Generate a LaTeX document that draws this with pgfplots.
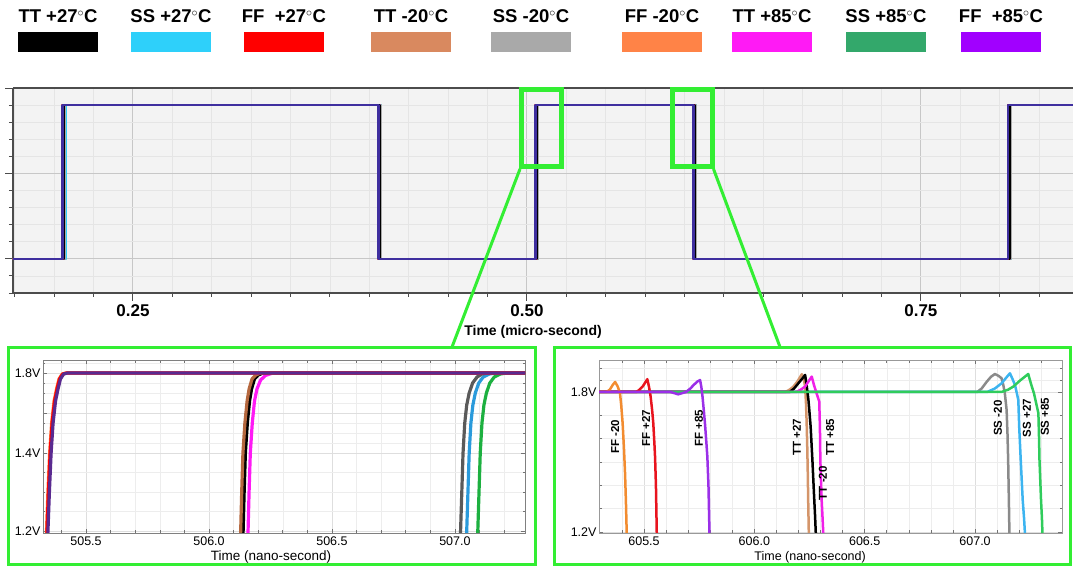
\documentclass[border=0pt]{standalone}
\usepackage{pgfplots}
\pgfplotsset{compat=1.18}
\usepackage{fontspec}
\setmainfont{Liberation Sans}

% legend palette
\definecolor{cTTa}{HTML}{000000}
\definecolor{cSSa}{HTML}{2ED0FA}
\definecolor{cFFa}{HTML}{FF0000}
\definecolor{cTTb}{HTML}{D9895F}
\definecolor{cSSb}{HTML}{A9A9A9}
\definecolor{cFFb}{HTML}{FF8347}
\definecolor{cTTc}{HTML}{FF1AF5}
\definecolor{cSSc}{HTML}{33A86B}
\definecolor{cFFc}{HTML}{A100FF}
% panel shades
\definecolor{topnavy}{HTML}{3F2F9F}
\definecolor{lplat}{HTML}{5A2A90}
\definecolor{lbrown}{HTML}{B5683F}
\definecolor{lgrey}{HTML}{5A5A5A}
\definecolor{lblue}{HTML}{2A9ADB}
\definecolor{lgreen}{HTML}{1DB040}
\definecolor{rorange}{HTML}{F28C30}
\definecolor{rred}{HTML}{E8141E}
\definecolor{rpurple}{HTML}{9B30E8}
\definecolor{rtan}{HTML}{D4956A}
\definecolor{rmag}{HTML}{F020E8}
\definecolor{rgrey}{HTML}{8A8A8A}
\definecolor{rblue}{HTML}{3CB4F0}
\definecolor{rgreen}{HTML}{30CC5C}
\definecolor{zg}{HTML}{33EE33}
\definecolor{bgtop}{HTML}{F3F3F3}

\begin{document}
\begin{tikzpicture}
\useasboundingbox (0pt,0pt) rectangle (1073pt,567pt);

% ---------------- legend ----------------
\begin{scope}[every node/.style={font=\fontsize{18.5}{18.5}\selectfont\bfseries, anchor=center}]
\node at (58pt,551pt)   {TT +27$^\circ$C};
\node at (171pt,551pt)  {SS +27$^\circ$C};
\node at (284pt,551pt)  {FF\ \ +27$^\circ$C};
\node at (411pt,551pt)  {TT -20$^\circ$C};
\node at (531pt,551pt)  {SS -20$^\circ$C};
\node at (662pt,551pt)  {FF -20$^\circ$C};
\node at (772pt,551pt)  {TT +85$^\circ$C};
\node at (886pt,551pt)  {SS +85$^\circ$C};
\node at (1001pt,551pt) {FF\ \ +85$^\circ$C};
\end{scope}
\fill[cTTa] (18pt,515pt) rectangle (98pt,535pt);
\fill[cSSa] (131pt,515pt) rectangle (211pt,535pt);
\fill[cFFa] (244pt,515pt) rectangle (324pt,535pt);
\fill[cTTb] (371pt,515pt) rectangle (451pt,535pt);
\fill[cSSb] (491pt,515pt) rectangle (571pt,535pt);
\fill[cFFb] (622pt,515pt) rectangle (702pt,535pt);
\fill[cTTc] (732pt,515pt) rectangle (812pt,535pt);
\fill[cSSc] (846pt,515pt) rectangle (926pt,535pt);
\fill[cFFc] (961pt,515pt) rectangle (1041pt,535pt);

% ---------------- top axis ----------------
\begin{axis}[at={(13pt,274pt)}, anchor=south west, scale only axis,
  width=1060pt, height=205pt,
  xmin=0.1739, xmax=0.8465, ymin=-0.4, ymax=2,
  axis background/.style={fill=bgtop},
  xtick={0.25,0.5,0.75}, xticklabels={0.25,0.50,0.75},
  minor xtick={0.175,0.2,0.225,0.275,0.3,0.325,0.35,0.375,0.4,0.425,0.45,0.475,0.525,0.55,0.575,0.6,0.625,0.65,0.675,0.7,0.725,0.775,0.8,0.825},
  ytick={0,1,2}, yticklabels={},
  minor ytick={-0.4,-0.2,0.2,0.4,0.6,0.8,1.2,1.4,1.6,1.8},
  grid=both,
  major grid style={color=black!22, line width=0.9pt},
  minor grid style={color=black!10, line width=0.7pt},
  tick align=outside, major tick length=8pt, minor tick length=4pt,
  tick style={color=black!70, line width=0.9pt},
  axis x line*=bottom, axis y line*=left,
  axis line style={color=black!70, line width=1.1pt, -},
  x tick label style={font=\fontsize{17}{17}\selectfont\bfseries},
  xlabel={Time (micro-second)},
  xlabel style={font=\fontsize{14}{14}\selectfont\bfseries, at={(axis description cs:0.4906,0)}, anchor=center, yshift=-39pt},
  every axis plot/.append style={line width=2.6pt, line join=round},
]
\addplot[cSSc] coordinates {(0.17,0)(0.20709,0)(0.20709,1.8)(0.40731,1.8)(0.40731,0)(0.50709,0)(0.50709,1.8)(0.60731,1.8)(0.60731,0)(0.80709,0)(0.80709,1.8)(0.85,1.8)};
\addplot[cSSa] coordinates {(0.17,0)(0.20705,0)(0.20705,1.8)(0.40723,1.8)(0.40723,0)(0.50705,0)(0.50705,1.8)(0.60723,1.8)(0.60723,0)(0.80705,0)(0.80705,1.8)(0.85,1.8)};
\addplot[cSSb] coordinates {(0.17,0)(0.20702,0)(0.20702,1.8)(0.40716,1.8)(0.40716,0)(0.50702,0)(0.50702,1.8)(0.60716,1.8)(0.60716,0)(0.80702,0)(0.80702,1.8)(0.85,1.8)};
\addplot[cTTc] coordinates {(0.17,0)(0.20616,0)(0.20616,1.8)(0.40631,1.8)(0.40631,0)(0.50616,0)(0.50616,1.8)(0.60631,1.8)(0.60631,0)(0.80616,0)(0.80616,1.8)(0.85,1.8)};
\addplot[cTTb] coordinates {(0.17,0)(0.20613,0)(0.20613,1.8)(0.40625,1.8)(0.40625,0)(0.50613,0)(0.50613,1.8)(0.60625,1.8)(0.60625,0)(0.80613,0)(0.80613,1.8)(0.85,1.8)};
\addplot[cTTa] coordinates {(0.17,0)(0.20614,0)(0.20614,1.8)(0.40628,1.8)(0.40628,0)(0.50614,0)(0.50614,1.8)(0.60628,1.8)(0.60628,0)(0.80614,0)(0.80614,1.8)(0.85,1.8)};
\addplot[cFFb] coordinates {(0.17,0)(0.20533,0)(0.20533,1.8)(0.40542,1.8)(0.40542,0)(0.50533,0)(0.50533,1.8)(0.60542,1.8)(0.60542,0)(0.80533,0)(0.80533,1.8)(0.85,1.8)};
\addplot[cFFa] coordinates {(0.17,0)(0.20534,0)(0.20534,1.8)(0.40556,1.8)(0.40556,0)(0.50534,0)(0.50534,1.8)(0.60556,1.8)(0.60556,0)(0.80534,0)(0.80534,1.8)(0.85,1.8)};
\addplot[topnavy] coordinates {(0.17,0)(0.20535,0)(0.20535,1.8)(0.40580,1.8)(0.40580,0)(0.50535,0)(0.50535,1.8)(0.60580,1.8)(0.60580,0)(0.80535,0)(0.80535,1.8)(0.85,1.8)};
\draw[black!70, line width=1.1pt] (rel axis cs:0,1) -- (rel axis cs:1,1);
\end{axis}

% ---------------- bottom left axis (rising edge) ----------------
\begin{axis}[at={(43pt,34pt)}, anchor=south west, scale only axis,
  width=482pt, height=173pt,
  xmin=505.325, xmax=507.285, ymin=1.195, ymax=1.865,
  y coord trafo/.code={\pgfmathparse{#1>=1.4 ? #1 : 1.4+(#1-1.4)*1.95}},
  y coord inv trafo/.code={\pgfmathparse{#1>=1.4 ? #1 : 1.4+(#1-1.4)/1.95}},
  xtick={505.5,506,506.5,507},
  minor xtick={505.4,505.6,505.7,505.8,505.9,506.1,506.2,506.3,506.4,506.6,506.7,506.8,506.9,507.1,507.2},
  ytick={1.2,1.4,1.6,1.8}, yticklabels={1.2V,1.4V,,1.8V},
  minor ytick={1.25,1.3,1.35,1.45,1.5,1.55,1.65,1.7,1.75,1.85},
  grid=both,
  major grid style={color=black!13, line width=0.6pt},
  minor grid style={color=black!7, line width=0.5pt},
  tick align=inside, major tick length=4pt, minor tick length=2.5pt,
  tick style={color=black!55, line width=0.6pt},
  axis line style={color=black!50, line width=0.9pt},
  x tick label style={font=\fontsize{12.5}{12.5}\selectfont, /pgf/number format/.cd, fixed, fixed zerofill, precision=1, assume math mode=true},
  y tick label style={font=\fontsize{12.5}{12.5}\selectfont, xshift=1pt},
  xlabel={Time (nano-second)},
  xlabel style={font=\fontsize{13.5}{13.5}\selectfont, at={(axis description cs:0.473,0)}, anchor=center, yshift=-24pt},
  every axis plot/.append style={line width=3.2pt, line join=round},
]
% SS group
\addplot[lgreen] coordinates {(507.092,1.18)(507.098,1.3)(507.103,1.4)(507.110,1.55)(507.118,1.64)(507.128,1.70)(507.142,1.75)(507.160,1.78)(507.185,1.795)(507.21,1.8)(507.285,1.8)};
\addplot[lblue] coordinates {(507.047,1.18)(507.053,1.3)(507.058,1.4)(507.065,1.55)(507.073,1.64)(507.083,1.70)(507.097,1.75)(507.115,1.78)(507.14,1.795)(507.165,1.8)(507.285,1.8)};
\addplot[lgrey] coordinates {(507.022,1.18)(507.028,1.3)(507.033,1.4)(507.040,1.55)(507.048,1.64)(507.058,1.70)(507.072,1.75)(507.09,1.78)(507.11,1.795)(507.13,1.8)(507.285,1.8)};
% TT group
\addplot[cTTc] coordinates {(506.158,1.18)(506.163,1.3)(506.168,1.4)(506.176,1.55)(506.185,1.66)(506.195,1.72)(506.21,1.765)(506.23,1.788)(506.26,1.8)(507.285,1.8)};
\addplot[cTTa] coordinates {(506.138,1.18)(506.143,1.3)(506.148,1.4)(506.156,1.55)(506.165,1.66)(506.173,1.72)(506.185,1.77)(506.20,1.79)(506.22,1.8)(507.285,1.8)};
\addplot[lbrown] coordinates {(506.128,1.18)(506.133,1.3)(506.138,1.4)(506.146,1.55)(506.155,1.66)(506.163,1.72)(506.175,1.77)(506.19,1.79)(506.21,1.8)(507.285,1.8)};
% FF group
\addplot[cFFb] coordinates {(505.338,1.18)(505.345,1.3)(505.352,1.4)(505.360,1.55)(505.370,1.66)(505.380,1.72)(505.390,1.77)(505.403,1.795)(505.42,1.8)(507.285,1.8)};
\addplot[cFFa] coordinates {(505.340,1.18)(505.347,1.3)(505.354,1.4)(505.362,1.55)(505.372,1.66)(505.382,1.72)(505.392,1.77)(505.405,1.795)(505.42,1.8)(507.285,1.8)};
\addplot[lplat] coordinates {(505.344,1.18)(505.351,1.3)(505.358,1.4)(505.366,1.55)(505.376,1.66)(505.386,1.72)(505.396,1.77)(505.409,1.795)(505.425,1.8)(507.285,1.8)};
\end{axis}

% ---------------- bottom right axis (falling edge) ----------------
\begin{axis}[at={(599pt,34pt)}, anchor=south west, scale only axis,
  width=463pt, height=173pt,
  xmin=605.296, xmax=607.394, ymin=1.196, ymax=1.937,
  xtick={605.5,606,606.5,607},
  minor xtick={605.4,605.6,605.7,605.8,605.9,606.1,606.2,606.3,606.4,606.6,606.7,606.8,606.9,607.1,607.2,607.3},
  ytick={1.2,1.8}, yticklabels={1.2V,1.8V},
  minor ytick={1.3,1.4,1.5,1.6,1.7,1.85,1.9},
  grid=both,
  major grid style={color=black!13, line width=0.6pt},
  minor grid style={color=black!7, line width=0.5pt},
  tick align=inside, major tick length=4pt, minor tick length=2.5pt,
  tick style={color=black!55, line width=0.6pt},
  axis line style={color=black!40, line width=0.8pt},
  x tick label style={font=\fontsize{12.5}{12.5}\selectfont, /pgf/number format/.cd, fixed, fixed zerofill, precision=1, assume math mode=true},
  y tick label style={font=\fontsize{12.5}{12.5}\selectfont, xshift=1pt},
  xlabel={Time (nano-second)},
  xlabel style={font=\fontsize{12.5}{12.5}\selectfont, at={(axis description cs:0.456,0)}, anchor=center, yshift=-24pt},
  every axis plot/.append style={line width=2.5pt, line join=round},
]
% SS group
\addplot[rgrey] coordinates {(605.296,1.8)(607.01,1.8)(607.03,1.815)(607.053,1.844)(607.072,1.865)(607.090,1.877)(607.105,1.87)(607.120,1.859)(607.128,1.83)(607.135,1.794)(607.143,1.723)(607.147,1.62)(607.150,1.508)(607.153,1.35)(607.156,1.18)};
\addplot[rblue] coordinates {(605.296,1.8)(607.055,1.8)(607.09,1.815)(607.12,1.837)(607.14,1.86)(607.158,1.88)(607.17,1.855)(607.181,1.83)(607.196,1.766)(607.200,1.651)(607.207,1.508)(607.216,1.336)(607.222,1.26)(607.227,1.18)};
% TT group
\addplot[rtan] coordinates {(605.296,1.8)(606.14,1.8)(606.16,1.81)(606.177,1.823)(606.195,1.845)(606.215,1.876)(606.223,1.86)(606.230,1.823)(606.234,1.75)(606.237,1.667)(606.240,1.55)(606.242,1.452)(606.244,1.33)(606.247,1.18)};
\addplot[cTTa] coordinates {(605.296,1.8)(606.16,1.8)(606.18,1.815)(606.199,1.837)(606.215,1.855)(606.230,1.873)(606.238,1.82)(606.245,1.766)(606.250,1.71)(606.255,1.651)(606.263,1.508)(606.270,1.366)(606.275,1.27)(606.279,1.18)};
\addplot[rmag] coordinates {(605.296,1.8)(606.19,1.8)(606.21,1.81)(606.230,1.823)(606.245,1.845)(606.260,1.866)(606.270,1.83)(606.282,1.794)(606.294,1.759)(606.297,1.65)(606.299,1.508)(606.302,1.42)(606.305,1.336)(606.309,1.26)(606.313,1.18)};
\addplot[rgreen] coordinates {(605.296,1.8)(607.12,1.8)(607.15,1.81)(607.173,1.823)(607.205,1.85)(607.241,1.877)(607.255,1.83)(607.267,1.794)(607.287,1.709)(607.290,1.6)(607.292,1.508)(607.299,1.336)(607.303,1.26)(607.306,1.18)};
% FF group
\addplot[rorange] coordinates {(605.296,1.8)(605.33,1.8)(605.345,1.81)(605.358,1.83)(605.369,1.843)(605.38,1.825)(605.391,1.796)(605.397,1.74)(605.403,1.667)(605.409,1.56)(605.414,1.452)(605.418,1.33)(605.422,1.18)};
\addplot[rred] coordinates {(605.296,1.8)(605.465,1.8)(605.48,1.81)(605.495,1.825)(605.505,1.84)(605.515,1.855)(605.523,1.82)(605.530,1.78)(605.537,1.72)(605.542,1.666)(605.547,1.58)(605.550,1.522)(605.554,1.40)(605.558,1.18)};
\addplot[rpurple] coordinates {(605.296,1.8)(605.62,1.8)(605.655,1.79)(605.69,1.80)(605.71,1.815)(605.725,1.83)(605.742,1.845)(605.754,1.851)(605.760,1.82)(605.765,1.78)(605.771,1.72)(605.776,1.667)(605.782,1.59)(605.787,1.522)(605.792,1.40)(605.797,1.18)};
% curve labels
\begin{scope}[every node/.style={rotate=90, font=\fontsize{11.5}{11.5}\selectfont\bfseries, anchor=center, inner sep=1pt}]
\node at (axis cs:605.369,1.607) {FF -20};
\node at (axis cs:605.509,1.645) {FF +27};
\node at (axis cs:605.749,1.645) {FF +85};
\node at (axis cs:606.193,1.607) {TT +27};
\node at (axis cs:606.343,1.607) {TT +85};
\node at (axis cs:606.311,1.409) {TT -20};
\node at (axis cs:607.104,1.688) {SS -20};
\node at (axis cs:607.235,1.688) {SS +27};
\node at (axis cs:607.317,1.693) {SS +85};
\end{scope}
\end{axis}

% ---------------- zoom frames and connectors ----------------
\draw[zg, line width=5pt] (521pt,477.2pt) rectangle (561.5pt,400.2pt);
\draw[zg, line width=5pt] (672.5pt,477.2pt) rectangle (712.5pt,400.2pt);
\draw[zg, line width=3pt] (520pt,398pt) -- (452pt,220pt);
\draw[zg, line width=3pt] (713.5pt,398pt) -- (780pt,220pt);
\draw[zg, line width=3pt] (8.5pt,2.5pt) rectangle (535.5pt,219.5pt);
\draw[zg, line width=3pt] (554.5pt,2.5pt) rectangle (1070.5pt,219.5pt);
\end{tikzpicture}
\end{document}
